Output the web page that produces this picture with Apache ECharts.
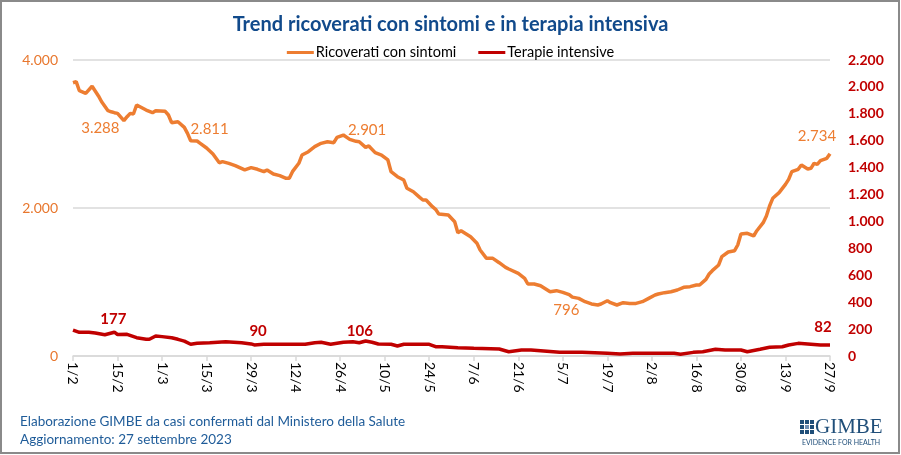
<!DOCTYPE html>
<html><head><meta charset="utf-8">
<script src="https://cdn.jsdelivr.net/npm/echarts@6/dist/echarts.min.js"></script>
<style>html,body{margin:0;padding:0;background:#fff}#c{width:901px;height:455px}</style>
</head><body><div id="c"></div>
<script>
// ---- data (day index from 1 Feb 2023) ----
const tickLabels = ['1/2','15/2','1/3','15/3','29/3','12/4','26/4','10/5','24/5','7/6','21/6','5/7','19/7','2/8','16/8','30/8','13/9','27/9'];
const seriesNames = ['Ricoverati con sintomi', 'Terapie intensive'];
const ricDays = [0,1,2,4,6,8,9,11,12,13,14,16,17,18,19,20,23,25,26,29,30,31,33,35,36,37,39,40,42,44,46,47,49,51,54,56,58,60,61,63,65,67,68,69,71,72,74,76,78,80,82,83,85,87,89,90,92,93,95,97,99,100,102,104,105,107,109,110,111,113,114,115,118,120,121,122,125,127,128,130,132,134,136,137,140,142,143,145,147,150,152,154,156,157,159,161,163,165,166,168,169,171,173,175,177,179,181,183,184,186,188,190,192,194,196,197,199,200,201,203,204,206,208,209,210,212,214,215,217,218,219,220,222,224,225,226,228,229,231,232,233,234,235,237,238];
const ricValues = [3693,3707,3585,3550,3645,3514,3436,3315,3300,3288,3279,3180,3234,3279,3270,3392,3324,3288,3315,3306,3257,3153,3166,3090,3009,2909,2905,2874,2811,2730,2612,2626,2603,2572,2514,2545,2523,2491,2514,2459,2437,2401,2401,2491,2604,2716,2761,2829,2874,2896,2883,2955,2986,2928,2901,2896,2820,2838,2748,2716,2649,2491,2423,2378,2266,2220,2144,2108,2108,2018,1982,1919,1905,1815,1666,1693,1612,1523,1432,1320,1320,1261,1198,1176,1117,1050,973,973,950,869,883,860,830,796,779,734,703,689,703,747,720,689,720,711,711,734,779,824,838,856,869,892,928,937,959,959,1036,1108,1153,1230,1342,1405,1423,1500,1649,1658,1622,1693,1802,1892,2027,2131,2207,2320,2387,2491,2523,2581,2527,2536,2604,2590,2639,2671,2734];
const tiDays = [0,2,5,7,10,13,14,17,20,23,24,26,28,31,33,35,37,39,43,48,53,56,57,60,64,70,73,76,78,81,85,88,90,92,94,96,100,102,104,112,114,116,121,126,134,137,141,144,148,153,160,168,172,176,189,191,195,198,202,205,210,212,216,219,223,225,228,231,235,238];
const tiValues = [193,176,176,171,158,177,160,161,136,124,124,149,144,136,124,111,87,94,99,106,99,90,82,87,87,87,87,99,102,87,102,106,99,111,102,89,87,74,87,87,69,69,62,57,52,32,45,45,37,27,27,20,15,20,20,13,27,32,50,45,45,32,50,65,69,82,94,89,82,82];
const ricLabelDays = [13, 42, 89, 157, 238];
const tiLabelDays = [13, 56, 88, 238];

// ---- styles ----
const ORANGE = '#ED7D31', RED = '#C00000', BLUE = '#114A8B';
const FONT = 'Lato, "Open Sans", sans-serif';
const ricLabelOffsets = {13: [-14, 15], 42: [3, -19], 89: [11, -11], 157: [-6, 13], 238: [-13, -18]};
const tiLabelOffsets = {13: [-1, -13], 56: [7, -13], 88: [7, -11], 238: [-7, -18]};

function fmt(v) { return String(Math.round(v)).replace(/\B(?=(\d{3})+(?!\d))/g, '.'); }

function buildData(days, values, labelDays, offsets, color, weight) {
  return days.map((d, i) => {
    const item = { value: [d, values[i]] };
    if (labelDays.indexOf(d) >= 0) {
      item.label = {
        show: true, position: 'inside', offset: offsets[d],
        formatter: p => fmt(p.value[1]),
        color: color, fontSize: 15, fontWeight: weight, fontFamily: FONT
      };
    }
    return item;
  });
}

const chart = echarts.init(document.getElementById('c'), null, {renderer: 'canvas'});
chart.setOption({
  animation: false,
  backgroundColor: '#fff',
  title: {
    text: 'Trend ricoverati con sintomi e in terapia intensiva',
    left: 'center', top: 10,
    textStyle: { color: BLUE, fontSize: 20, fontWeight: 'bold', fontFamily: FONT }
  },
  legend: {
    top: 40, left: 'center',
    icon: 'rect', itemWidth: 27, itemHeight: 3, itemGap: 22,
    textStyle: { color: '#000', fontSize: 14.5, fontFamily: FONT, padding: [0, 0, 0, -3] },
    data: seriesNames
  },
  grid: { left: 73, right: 71, top: 60, bottom: 99, containLabel: false },
  xAxis: {
    type: 'value', min: 0, max: 238, interval: 14,
    axisLine: { show: true, lineStyle: { color: '#D9D9D9', width: 1.5 } },
    axisTick: { show: true, length: 5, lineStyle: { color: '#D9D9D9', width: 1.5 } },
    splitLine: { show: false },
    axisLabel: {
      rotate: -90, margin: 6, color: '#000', fontSize: 14, fontFamily: FONT,
      formatter: v => tickLabels[Math.round(v / 14)] || ''
    }
  },
  yAxis: [
    {
      type: 'value', min: 0, max: 4000, interval: 2000,
      axisLine: { show: false }, axisTick: { show: false },
      splitLine: { show: true, lineStyle: { color: '#D9D9D9', width: 1.5 } },
      axisLabel: { color: '#E8772E', fontSize: 14, fontFamily: FONT, margin: 15, formatter: fmt }
    },
    {
      type: 'value', min: 0, max: 2200, interval: 200, position: 'right',
      axisLine: { show: false }, axisTick: { show: false },
      splitLine: { show: false },
      axisLabel: { color: RED, fontSize: 14, fontWeight: 'bold', fontFamily: FONT, margin: 18, align: 'left', formatter: fmt }
    }
  ],
  series: [
    {
      name: seriesNames[0], type: 'line', yAxisIndex: 0,
      data: buildData(ricDays, ricValues, ricLabelDays, ricLabelOffsets, ORANGE, 'normal'),
      showSymbol: true, symbol: 'circle', symbolSize: 0,
      lineStyle: { color: ORANGE, width: 3.5 }, itemStyle: { color: ORANGE },
      emphasis: { disabled: true }
    },
    {
      name: seriesNames[1], type: 'line', yAxisIndex: 1,
      data: buildData(tiDays, tiValues, tiLabelDays, tiLabelOffsets, RED, 'bold'),
      showSymbol: true, symbol: 'circle', symbolSize: 0,
      lineStyle: { color: RED, width: 3.5 }, itemStyle: { color: RED },
      emphasis: { disabled: true }
    }
  ],
  graphic: [
    { type: 'rect', shape: { x: 1, y: 1, width: 898, height: 452 }, style: { fill: 'none', stroke: '#8A8A8A', lineWidth: 2 }, silent: true },
    { type: 'text', left: 20, top: 415, style: { text: 'Elaborazione GIMBE da casi confermati dal Ministero della Salute', fill: '#1F5C99', font: '13.5px ' + FONT } },
    { type: 'text', left: 20, top: 433, style: { text: 'Aggiornamento: 27 settembre 2023', fill: '#1F5C99', font: '13.5px ' + FONT } },
    // GIMBE logo
    { type: 'group', left: 800, top: 417, children: [
      { type: 'rect', shape: { x: 0, y: 2, width: 4, height: 4 }, style: { fill: '#1F4E79' } },
      { type: 'rect', shape: { x: 5, y: 2, width: 4, height: 4 }, style: { fill: '#1F4E79' } },
      { type: 'rect', shape: { x: 10, y: 2, width: 4, height: 4 }, style: { fill: '#1F4E79' } },
      { type: 'rect', shape: { x: 0, y: 7, width: 4, height: 4 }, style: { fill: '#1F4E79' } },
      { type: 'rect', shape: { x: 5, y: 7, width: 4, height: 4 }, style: { fill: '#6F8FB5' } },
      { type: 'rect', shape: { x: 10, y: 7, width: 4, height: 4 }, style: { fill: '#1F4E79' } },
      { type: 'rect', shape: { x: 0, y: 12, width: 4, height: 4 }, style: { fill: '#1F4E79' } },
      { type: 'rect', shape: { x: 5, y: 12, width: 4, height: 4 }, style: { fill: '#1F4E79' } },
      { type: 'rect', shape: { x: 10, y: 12, width: 4, height: 4 }, style: { fill: '#1F4E79' } },
      { type: 'text', x: 15, y: -1, style: { text: 'GIMBE', fill: '#1F4E79', font: '21px "Liberation Serif", "DejaVu Serif", serif' } },
      { type: 'text', x: 2, y: 21, style: { text: 'EVIDENCE FOR HEALTH', fill: '#1F4E79', font: '7px ' + FONT } }
    ]}
  ]
});
</script></body></html>
